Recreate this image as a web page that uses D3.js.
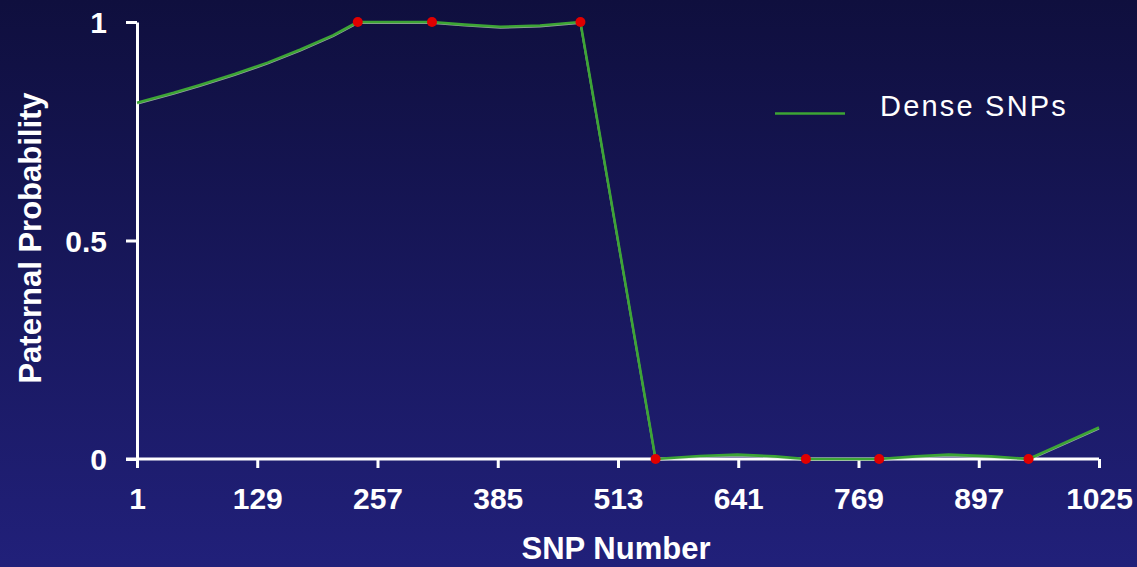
<!DOCTYPE html>
<html>
<head>
<meta charset="utf-8">
<script src="https://cdn.jsdelivr.net/npm/d3@7"></script>
<style>
  html, body { margin: 0; padding: 0; background: #15154a; }
  svg { display: block; font-family: "Liberation Sans", Arial, sans-serif; }
</style>
</head>
<body>
<div class="chart"></div>
<script>
// data
const xTicks = [1, 129, 257, 385, 513, 641, 769, 897, 1025]
const yTicks = [0, 0.5, 1]
const lineSnp = [1, 40, 68, 105, 140, 175, 210, 236, 315, 350, 388, 430, 473, 553, 600, 640, 680, 713, 791, 830, 865, 910, 950, 1025]
const lineProb = [0.815, 0.838, 0.856, 0.881, 0.907, 0.937, 0.970, 1.0, 1.0, 0.994, 0.989, 0.992, 1.0, 0.0, 0.007, 0.01, 0.006, 0.0, 0.0, 0.006, 0.01, 0.006, 0.0, 0.072]
const markerSnp = [236, 315, 473, 553, 713, 791, 950]
const markerProb = [1, 1, 1, 0, 0, 0, 0]
const seriesName = "Dense SNPs"

const width = 1137, height = 567
const padding = {left: 137, right: 38, top: 22, bottom: 107}

const svg = d3.select(".chart").append("svg").attr("width", width).attr("height", height)

const grad = svg.append("defs").append("linearGradient")
    .attr("id", "bg").attr("x1", 0).attr("y1", 0).attr("x2", 0).attr("y2", 1)
grad.append("stop").attr("offset", "0%").attr("stop-color", "#0f0f3e")
grad.append("stop").attr("offset", "100%").attr("stop-color", "#21207a")
svg.append("rect").attr("width", width).attr("height", height).attr("fill", "url(#bg)")

const xScale = d3.scaleLinear()
    .domain([1, 1025])
    .range([padding.left, width - padding.right])
const yScale = d3.scaleLinear()
    .domain([0, 1])
    .range([height - padding.bottom - 1, padding.top])

// x axis
const xAxis = svg.append("g")
    .attr("transform", "translate(0," + yScale(0) + ")")
    .call(d3.axisBottom(xScale).tickValues(xTicks).tickFormat(d3.format("d"))
        .tickSize(9).tickPadding(20).tickSizeOuter(0))
xAxis.select(".domain").attr("d", "M" + (xScale(1) - 11) + ",0H" + xScale(1025))
// y axis
const yAxis = svg.append("g")
    .attr("transform", "translate(" + xScale(1) + ",0)")
    .call(d3.axisLeft(yScale).tickValues(yTicks).tickFormat(d3.format(""))
        .tickSize(11).tickPadding(19).tickSizeOuter(0))

svg.selectAll(".domain, .tick line").attr("stroke", "#fff").attr("stroke-width", 3)
svg.selectAll(".tick text")
    .attr("fill", "#fff").attr("font-size", 30).attr("font-weight", "bold")
    .attr("font-family", "'Liberation Sans', Arial, sans-serif")
yAxis.selectAll(".tick text").attr("dy", "0.36em")

// axis titles
svg.append("text")
    .attr("x", 616).attr("y", 559)
    .attr("text-anchor", "middle").attr("fill", "#fff")
    .attr("font-size", 31).attr("font-weight", "bold")
    .text("SNP Number")
svg.append("text")
    .attr("transform", "translate(41,238) rotate(-90)")
    .attr("text-anchor", "middle").attr("fill", "#fff")
    .attr("font-size", 31).attr("font-weight", "bold")
    .text("Paternal Probability")

// line
const lineData = lineSnp.map((s, i) => [s, lineProb[i]])
const lineFunction = d3.line()
    .x(d => xScale(d[0]))
    .y(d => yScale(d[1]))

svg.append("path")
    .attr("d", lineFunction(lineData))
    .attr("transform", "translate(0,1)")
    .attr("fill", "none")
    .attr("stroke", "#cfe6c6")
    .attr("stroke-opacity", 0.7)
    .attr("stroke-width", 2)
svg.append("path")
    .attr("d", lineFunction(lineData))
    .attr("fill", "none")
    .attr("stroke", "#3da535")
    .attr("stroke-width", 2.6)
    .attr("stroke-linejoin", "round")

svg.append("g").selectAll("circle")
    .data(markerSnp.map((s, i) => [s, markerProb[i]]))
    .enter()
    .append("circle")
    .attr("cx", d => xScale(d[0]))
    .attr("cy", d => yScale(d[1]))
    .attr("r", 5)
    .attr("fill", "#e00000")

// legend
const legend = svg.append("g")
legend.append("line")
    .attr("x1", 775).attr("x2", 845).attr("y1", 113.5).attr("y2", 113.5)
    .attr("stroke", "#3da535").attr("stroke-width", 2.5)
legend.append("text")
    .attr("x", 880).attr("y", 116)
    .attr("fill", "#fff").attr("font-size", 29)
    .attr("letter-spacing", 2.2)
    .text(seriesName)
</script>
</body>
</html>
